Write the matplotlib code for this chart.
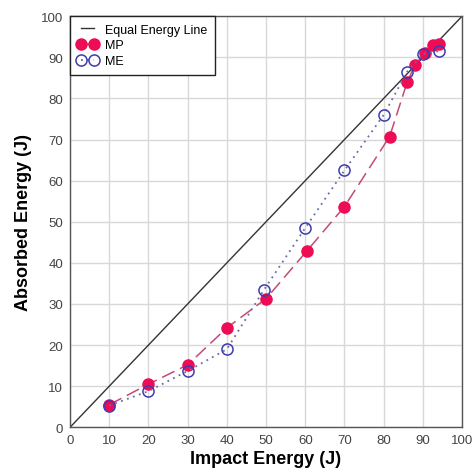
import numpy as np
import matplotlib
matplotlib.use("Agg")
import matplotlib.pyplot as plt

plt.rcParams['font.family'] = ['Liberation Sans', 'DejaVu Sans']

# data
mp_x = [10, 20, 30, 40, 50, 60.5, 70, 81.5, 86, 88, 90.5, 92.5, 94]
mp_y = [5.5, 10.5, 15.2, 24.2, 31.3, 43, 53.7, 70.7, 84, 88.2, 91, 93, 93.2]
me_x = [10, 20, 30, 40, 49.5, 60, 70, 80, 86, 90, 94]
me_y = [5.3, 8.8, 13.7, 19, 33.5, 48.5, 62.5, 76, 86.5, 90.8, 91.5]
eq_line = [0, 100]

fig = plt.figure(figsize=(4.73, 4.77), dpi=100)
ax = fig.add_axes([0.148, 0.102, 0.829, 0.862])

ax.plot(eq_line, eq_line, color="#333333", linewidth=1.0, label="Equal Energy Line")
ax.plot(mp_x, mp_y, linestyle=(0, (9, 4)), color="#c44a78", linewidth=1.1,
        marker='o', markersize=8, markerfacecolor="#ee0c55", markeredgecolor="#ee0c55",
        label="MP")
ax.plot(me_x, me_y, linestyle=(0, (1, 2.5)), color="#6a6aa8", linewidth=1.3,
        marker='o', markersize=8, markerfacecolor="none", markeredgecolor="#3c3cb0",
        markeredgewidth=1.1, label="ME")

ax.set_xlim(0, 100)
ax.set_ylim(0, 100)
ax.set_xticks(np.arange(0, 101, 10))
ax.set_yticks(np.arange(0, 101, 10))
ax.tick_params(length=0, labelsize=9.5, labelcolor="#444444", pad=5)
ax.grid(color="#d8d8d8", linewidth=1.0)
ax.set_axisbelow(True)
for s in ax.spines.values():
    s.set_color("#555555")
    s.set_linewidth(1.0)

ax.set_xlabel("Impact Energy (J)", fontsize=13, fontweight="bold", labelpad=3)
ax.set_ylabel("Absorbed Energy (J)", fontsize=13, fontweight="bold", labelpad=6)

leg = ax.legend(loc="upper left", bbox_to_anchor=(0.0, 1.0), fontsize=9,
                fancybox=False, framealpha=1, edgecolor="#222222",
                handlelength=1.6, labelspacing=0.3, borderpad=0.6,
                numpoints=2, borderaxespad=0, handletextpad=0.6)
leg.get_frame().set_linewidth(1.0)

fig.savefig("out.png", dpi=100)
